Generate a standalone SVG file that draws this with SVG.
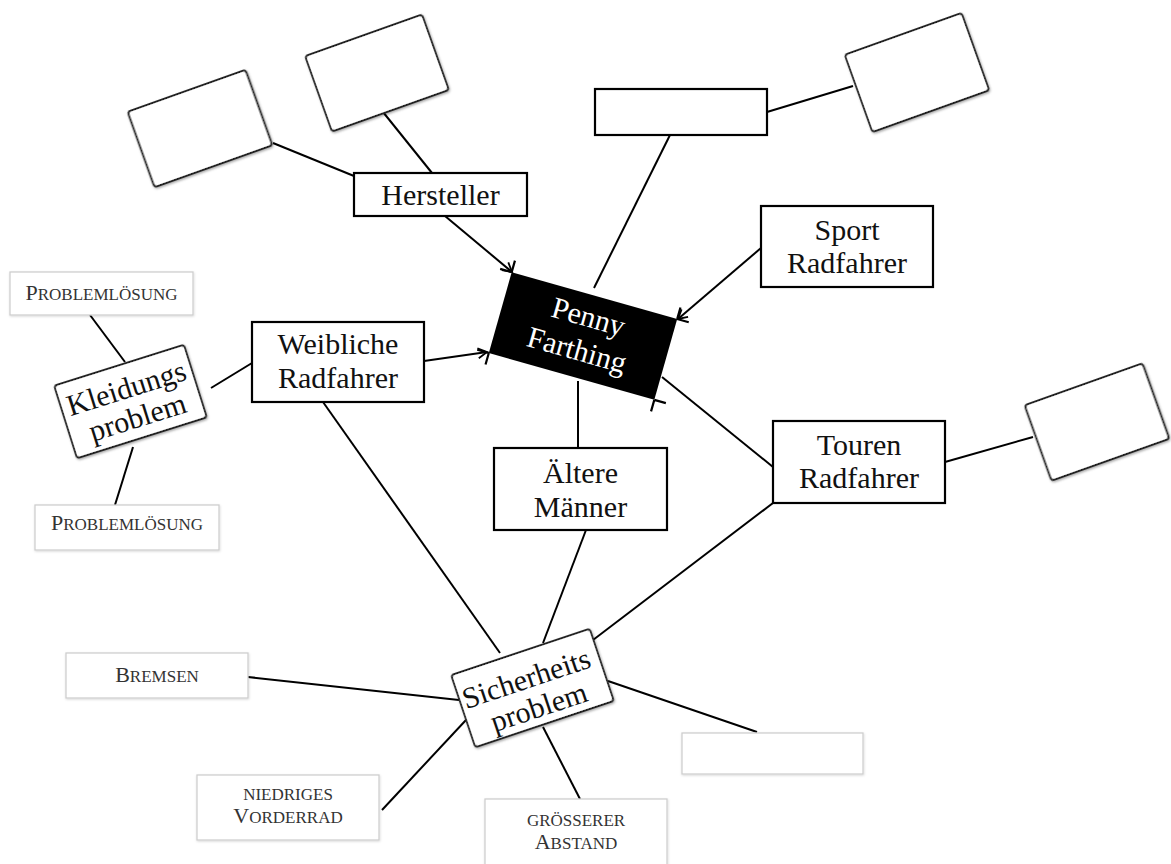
<svg xmlns="http://www.w3.org/2000/svg" width="1171" height="864" viewBox="0 0 1171 864">
<defs>
<style>
.ln{stroke:#000;stroke-width:2;fill:none}
.box{fill:#fff;stroke:#000;stroke-width:2.2}
.rot{fill:#fff;stroke:#222;stroke-width:1.8;filter:url(#sh)}
.sm{fill:#fff;stroke:#cfcfcf;stroke-width:1.3;filter:url(#sh2)}
.t{font-family:"Liberation Serif","DejaVu Serif",serif;font-size:30px;fill:#111;text-anchor:middle}
.tw{font-family:"Liberation Serif","DejaVu Serif",serif;font-size:30px;fill:#fff;text-anchor:middle}
.s{font-family:"Liberation Serif","DejaVu Serif",serif;font-size:17px;fill:#333;text-anchor:middle}
.big{font-size:22px}
.mk{stroke:#000;stroke-width:2.2;fill:none}
</style>
<filter id="sh" x="-10%" y="-10%" width="120%" height="130%">
<feDropShadow dx="0.5" dy="1.5" stdDeviation="1.2" flood-color="#000" flood-opacity="0.35"/>
</filter>
<filter id="sh2" x="-10%" y="-10%" width="120%" height="130%">
<feDropShadow dx="0.5" dy="1" stdDeviation="1" flood-color="#000" flood-opacity="0.15"/>
</filter>
<marker id="ar" markerWidth="12" markerHeight="12" refX="10" refY="6" orient="auto" markerUnits="userSpaceOnUse">
<path d="M1,1 L10,6 L1,11" fill="none" stroke="#000" stroke-width="1.8"/>
</marker>
</defs>
<rect width="1171" height="864" fill="#fff"/>

<g id="connectors">
<path class="ln" d="M445,216 L512,272" marker-end="url(#ar)"/>
<path class="ln" d="M273,143 L354,176"/>
<path class="ln" d="M383,112 L432,173"/>
<path class="ln" d="M594,288 L670,135"/>
<path class="ln" d="M767,112 L853,86"/>
<path class="ln" d="M761,248 L678,319" marker-end="url(#ar)"/>
<path class="ln" d="M662,377 L773,467"/>
<path class="ln" d="M945,462 L1033,437"/>
<path class="ln" d="M424,361 L487,352" marker-end="url(#ar)"/>
<path class="ln" d="M211,388 L252,363"/>
<path class="ln" d="M90,315 L125,362"/>
<path class="ln" d="M115,505 L133,447"/>
<path class="ln" d="M578,381 L578,448"/>
<path class="ln" d="M323,402 L500,653"/>
<path class="ln" d="M586,530 L543,643"/>
<path class="ln" d="M773,503 L593,640"/>
<path class="ln" d="M608,681 L757,732"/>
<path class="ln" d="M248,677 L459,700"/>
<path class="ln" d="M382,810 L466,720"/>
<path class="ln" d="M580,799 L543,727"/>
</g>

<g id="node-empty-a" transform="translate(200,128.5) rotate(-19.6)">
<rect class="rot" x="-62.5" y="-40" width="125" height="80" rx="3"/>
</g>
<g id="node-empty-b" transform="translate(377,73) rotate(-19.6)">
<rect class="rot" x="-62" y="-40" width="124" height="80" rx="3"/>
</g>
<g id="node-empty-c" transform="translate(917,72.5) rotate(-19.7)">
<rect class="rot" x="-62" y="-41" width="124" height="82" rx="3"/>
</g>
<g id="node-empty-d" transform="translate(1097,422) rotate(-19.6)">
<rect class="rot" x="-62.5" y="-40" width="125" height="80" rx="3"/>
</g>

<g id="node-hersteller">
<rect class="box" x="354" y="173" width="173" height="43"/>
<text class="t" x="440.5" y="205">Hersteller</text>
</g>

<g id="node-empty-top">
<rect class="box" x="595" y="89" width="172" height="46"/>
</g>

<g id="node-sport">
<rect class="box" x="761" y="206" width="172" height="81"/>
<text class="t" x="847" y="240">Sport</text>
<text class="t" x="847" y="273">Radfahrer</text>
</g>

<g id="node-penny" transform="translate(583,336) rotate(15.8)">
<rect x="-86" y="-42" width="172" height="84" fill="#000"/>
<path class="mk" d="M-86,-54 L-86,-42 M-98,-42 L-86,-42 M86,-54 L86,-42 M86,-42 L98,-42 M86,42 L98,42 M86,42 L86,54 M-86,42 L-86,54 M-98,42 L-86,42"/>
<text class="tw" x="0" y="-10">Penny</text>
<text class="tw" x="-2" y="25">Farthing</text>
</g>

<g id="node-weibliche">
<rect class="box" x="252" y="322" width="172" height="80"/>
<text class="t" x="338" y="354">Weibliche</text>
<text class="t" x="338" y="388">Radfahrer</text>
</g>

<g id="node-aeltere">
<rect class="box" x="494" y="448" width="173" height="82"/>
<text class="t" x="580.5" y="483">Ältere</text>
<text class="t" x="580.5" y="517">Männer</text>
</g>

<g id="node-touren">
<rect class="box" x="773" y="421" width="172" height="82"/>
<text class="t" x="859" y="455">Touren</text>
<text class="t" x="859" y="488">Radfahrer</text>
</g>

<g id="node-kleidungs" transform="translate(130.5,401.5) rotate(-17.5)">
<rect class="rot" x="-68" y="-38" width="136" height="76" rx="3"/>
<text class="t" x="0" y="-4">Kleidungs</text>
<text class="t" x="2" y="27">problem</text>
</g>

<g id="node-problem-1">
<rect class="sm" x="10" y="272" width="183" height="43"/>
<text class="s" x="101.5" y="300"><tspan class="big">P</tspan>ROBLEMLÖSUNG</text>
</g>

<g id="node-problem-2">
<rect class="sm" x="35" y="505" width="184" height="45"/>
<text class="s" x="127" y="530"><tspan class="big">P</tspan>ROBLEMLÖSUNG</text>
</g>

<g id="node-sicherheits" transform="translate(532.5,688) rotate(-18.5)">
<rect class="rot" x="-73" y="-38" width="146" height="76" rx="3"/>
<text class="t" x="-3" y="-1">Sicherheits</text>
<text class="t" x="0" y="30">problem</text>
</g>

<g id="node-bremsen">
<rect class="sm" x="66" y="653" width="182" height="45"/>
<text class="s" x="157" y="682"><tspan class="big">B</tspan>REMSEN</text>
</g>

<g id="node-niedriges">
<rect class="sm" x="197" y="775" width="182" height="65"/>
<text class="s" x="288" y="800">NIEDRIGES</text>
<text class="s" x="288" y="823"><tspan class="big">V</tspan>ORDERRAD</text>
</g>

<g id="node-groesserer">
<rect class="sm" x="485" y="799" width="182" height="70"/>
<text class="s" x="576" y="826">GRÖSSERER</text>
<text class="s" x="576" y="849"><tspan class="big">A</tspan>BSTAND</text>
</g>

<g id="node-empty-e">
<rect class="sm" x="682" y="733" width="181" height="41"/>
</g>
</svg>
